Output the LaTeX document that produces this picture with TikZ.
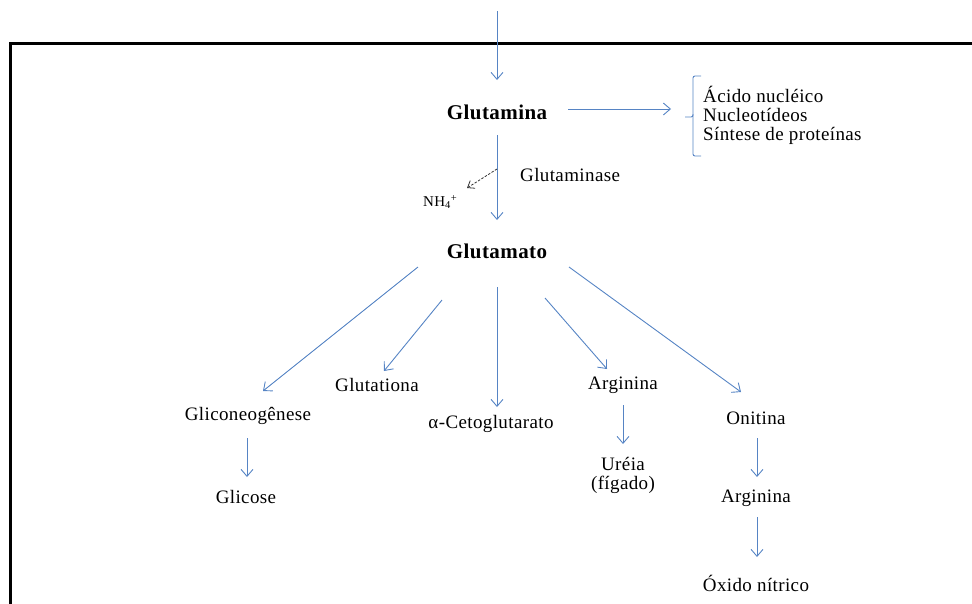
\documentclass[tikz,border=0pt]{standalone}
\usepackage{fontspec}
\setmainfont{Liberation Serif}[LetterSpace=2]
\usetikzlibrary{arrows.meta}
\definecolor{arrblue}{RGB}{86,132,196}
\definecolor{dashgray}{RGB}{50,50,50}
\begin{document}
\begin{tikzpicture}[x=1pt,y=-1pt,
  txt/.style={font=\fontsize{19}{19}\selectfont, inner sep=0pt},
  boldtxt/.style={font=\fontsize{21}{24}\selectfont\bfseries, inner sep=0pt},
  smalltxt/.style={font=\fontsize{15}{16}\selectfont, inner sep=0pt},
  arr/.style={draw=arrblue, line width=0.9pt, -{Straight Barb[length=7pt,width=12pt,line width=0.9pt]}},
  dasharr/.style={draw=dashgray, line width=0.8pt, dash pattern=on 2.5pt off 1.5pt, -{Straight Barb[length=6pt,width=9pt,line width=0.8pt]}},
  frame/.style={draw=black, line width=3pt},
  bracket/.style={draw=arrblue, line width=0.9pt, rounded corners=2pt}]
\useasboundingbox (0,0) rectangle (972,603);

% frame
\draw[frame] (10,610) -- (10,43) -- (980,43);

% nodes
\node[boldtxt] (glutamina) at (497,112) {Glutamina};
\node[boldtxt] (glutamato) at (497,251) {Glutamato};
\node[txt, anchor=west] (glutaminase) at (520,175) {Glutaminase};
\node[smalltxt, anchor=west] (nh4) at (423,202) {NH\textsubscript{4}\textsuperscript{+}};
\node[txt, anchor=west, align=left] (destinos) at (703,115) {Ácido nucléico\\Nucleotídeos\\Síntese de proteínas};
\node[txt] (glicon) at (248,416) {Gliconeogênese};
\node[txt] (glicose) at (246,497) {Glicose};
\node[txt] (glutationa) at (377,385) {Glutationa};
\node[txt] (ceto) at (491,424) {α-Cetoglutarato};
\node[txt] (arginina1) at (623,385) {Arginina};
\node[txt, align=center] (ureia) at (623,475) {Uréia\\(fígado)};
\node[txt] (onitina) at (756,418) {Onitina};
\node[txt] (arginina2) at (756,498) {Arginina};
\node[txt] (oxido) at (756,583) {Óxido nítrico};

% arrow endpoints
\coordinate (topstart) at (497,11);
\coordinate (topend) at (497,80);
\coordinate (gnaS) at (497,135);
\coordinate (gnaE) at (497,220);
\coordinate (rS) at (568,109);
\coordinate (rE) at (671,109);
\coordinate (dS) at (497,169);
\coordinate (dE) at (467,188);
\coordinate (g1S) at (418,267);
\coordinate (g1E) at (263,391);
\coordinate (g2S) at (442,300);
\coordinate (g2E) at (384,371);
\coordinate (g3S) at (497,287);
\coordinate (g3E) at (497,407);
\coordinate (g4S) at (545,298);
\coordinate (g4E) at (607,369);
\coordinate (g5S) at (569,267);
\coordinate (g5E) at (741,392);
\coordinate (glS) at (247,438);
\coordinate (glE) at (247,477);
\coordinate (arS) at (623,405);
\coordinate (arE) at (623,444);
\coordinate (onS) at (757,438);
\coordinate (onE) at (757,477);
\coordinate (a2S) at (757,517);
\coordinate (a2E) at (757,557);

% connectors
\draw[arr] (topstart) -- (topend);
\draw[arr] (gnaS) -- (gnaE);
\draw[arr] (rS) -- (rE);
\draw[dasharr] (dS) -- (dE);
\draw[arr] (g1S) -- (g1E);
\draw[arr] (g2S) -- (g2E);
\draw[arr] (g3S) -- (g3E);
\draw[arr] (g4S) -- (g4E);
\draw[arr] (g5S) -- (g5E);
\draw[arr] (glS) -- (glE);
\draw[arr] (arS) -- (arE);
\draw[arr] (onS) -- (onE);
\draw[arr] (a2S) -- (a2E);

% bracket
\draw[bracket] (701,76) -- (693,76) -- (693,117) -- (685,117);
\draw[bracket] (693,114) -- (693,156) -- (701,156);
\end{tikzpicture}
\end{document}
